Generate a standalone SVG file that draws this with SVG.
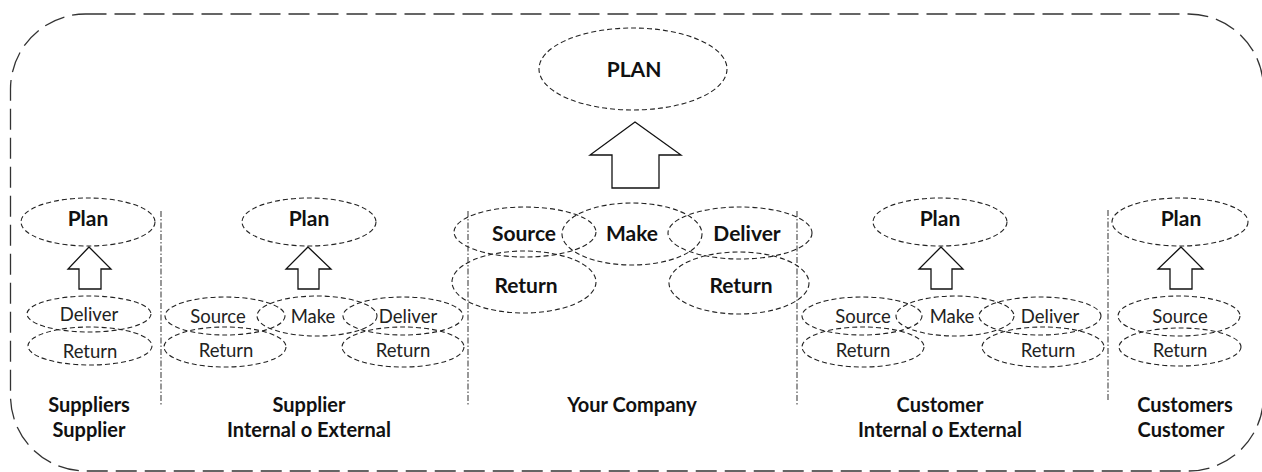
<svg xmlns="http://www.w3.org/2000/svg" width="1262" height="472" viewBox="0 0 1262 472">
<style>
.e{fill:none;stroke:#222;stroke-width:1.1;stroke-dasharray:5 3}
.a{fill:#fff;stroke:#111;stroke-width:1.3;stroke-linejoin:miter}
.s{stroke:#444;stroke-width:1.1;stroke-dasharray:6 2 1.5 2;fill:none}
.b{font-family:Lato,"Liberation Sans",sans-serif;font-weight:bold;font-size:21px;text-anchor:middle;fill:#111}
.r{font-family:Lato,"Liberation Sans",sans-serif;font-size:18.5px;text-anchor:middle;fill:#222}
.l{font-family:Lato,"Liberation Sans",sans-serif;font-weight:bold;font-size:20px;text-anchor:middle;fill:#111}
</style>
<rect x="10.5" y="14" width="1253" height="457" rx="75" ry="75" fill="none" stroke="#333" stroke-width="1.3" stroke-dasharray="21 8"/>
<g id="separators">
<line class="s" x1="161" y1="211" x2="161" y2="405"/>
<line class="s" x1="468" y1="211" x2="468" y2="405"/>
<line class="s" x1="797" y1="211" x2="797" y2="405"/>
<line class="s" x1="1108" y1="210" x2="1108" y2="402"/>
</g>
<g id="connectors">
<polygon class="a" points="635,122 681,155 659,155 659,188 612,188 612,155 590,155"/>
<polygon class="a" points="89,247 111,269 101,269 101,289 79,289 79,269 68,269"/>
<polygon class="a" points="308,247 331,269 319,269 319,289 298,289 298,269 286,269"/>
<polygon class="a" points="941,247 963,269 952,269 952,289 931,289 931,269 919,269"/>
<polygon class="a" points="1181,247 1203,269 1192,269 1192,289 1170,289 1170,269 1158,269"/>
</g>
<g id="node-PLAN"><ellipse class="e" cx="633" cy="69" rx="94" ry="41"/><text class="b" x="634" y="77">PLAN</text></g>
<g id="col1">
<g id="c1-plan"><ellipse class="e" cx="88" cy="222" rx="67" ry="24"/><text class="b" x="88" y="226">Plan</text></g>
<g id="c1-deliver"><ellipse class="e" cx="89" cy="314" rx="62" ry="18"/><text class="r" x="89" y="321">Deliver</text></g>
<g id="c1-return"><ellipse class="e" cx="90" cy="346" rx="62" ry="19"/><text class="r" x="90" y="358">Return</text></g>
<text class="l" x="89" y="412">Suppliers</text><text class="l" x="89" y="437">Supplier</text>
</g>
<g id="col2">
<g id="c2-plan"><ellipse class="e" cx="309" cy="222" rx="67" ry="24"/><text class="b" x="309" y="226">Plan</text></g>
<g id="c2-source"><ellipse class="e" cx="225" cy="316" rx="60" ry="19"/><text class="r" x="218" y="323">Source</text></g>
<g id="c2-make"><ellipse class="e" cx="317" cy="316" rx="60" ry="20"/><text class="r" x="313" y="323">Make</text></g>
<g id="c2-deliver"><ellipse class="e" cx="403" cy="316" rx="60" ry="19"/><text class="r" x="408" y="323">Deliver</text></g>
<g id="c2-return1"><ellipse class="e" cx="225" cy="347" rx="61" ry="20"/><text class="r" x="226" y="357">Return</text></g>
<g id="c2-return2"><ellipse class="e" cx="403" cy="347" rx="61" ry="20"/><text class="r" x="403" y="357">Return</text></g>
<text class="l" x="309" y="412">Supplier</text><text class="l" x="309" y="437">Internal o External</text>
</g>
<g id="col3">
<g id="c3-source"><ellipse class="e" cx="525" cy="232" rx="71" ry="25"/><text class="b" x="524" y="241">Source</text></g>
<g id="c3-make"><ellipse class="e" cx="632" cy="234" rx="70" ry="31"/><text class="b" x="632" y="241">Make</text></g>
<g id="c3-deliver"><ellipse class="e" cx="740" cy="233" rx="72" ry="26"/><text class="b" x="747" y="241">Deliver</text></g>
<g id="c3-return1"><ellipse class="e" cx="524" cy="282" rx="72" ry="31"/><text class="b" x="526" y="293">Return</text></g>
<g id="c3-return2"><ellipse class="e" cx="739" cy="283" rx="70" ry="31"/><text class="b" x="741" y="293">Return</text></g>
<text class="l" x="632" y="412">Your Company</text>
</g>
<g id="col4">
<g id="c4-plan"><ellipse class="e" cx="940" cy="222" rx="67" ry="24"/><text class="b" x="940" y="226">Plan</text></g>
<g id="c4-source"><ellipse class="e" cx="862" cy="316" rx="60" ry="19"/><text class="r" x="863" y="323">Source</text></g>
<g id="c4-make"><ellipse class="e" cx="955" cy="316" rx="59" ry="20"/><text class="r" x="952" y="323">Make</text></g>
<g id="c4-deliver"><ellipse class="e" cx="1040" cy="316" rx="61" ry="19"/><text class="r" x="1050" y="323">Deliver</text></g>
<g id="c4-return1"><ellipse class="e" cx="863" cy="347" rx="61" ry="20"/><text class="r" x="863" y="357">Return</text></g>
<g id="c4-return2"><ellipse class="e" cx="1043" cy="347" rx="61" ry="20"/><text class="r" x="1048" y="357">Return</text></g>
<text class="l" x="940" y="412">Customer</text><text class="l" x="940" y="437">Internal o External</text>
</g>
<g id="col5">
<g id="c5-plan"><ellipse class="e" cx="1180" cy="222" rx="68" ry="24"/><text class="b" x="1181" y="226">Plan</text></g>
<g id="c5-source"><ellipse class="e" cx="1179" cy="316" rx="61" ry="20"/><text class="r" x="1180" y="323">Source</text></g>
<g id="c5-return"><ellipse class="e" cx="1180" cy="347" rx="61" ry="19"/><text class="r" x="1180" y="357">Return</text></g>
<text class="l" x="1185" y="412">Customers</text><text class="l" x="1181" y="437">Customer</text>
</g>
</svg>
